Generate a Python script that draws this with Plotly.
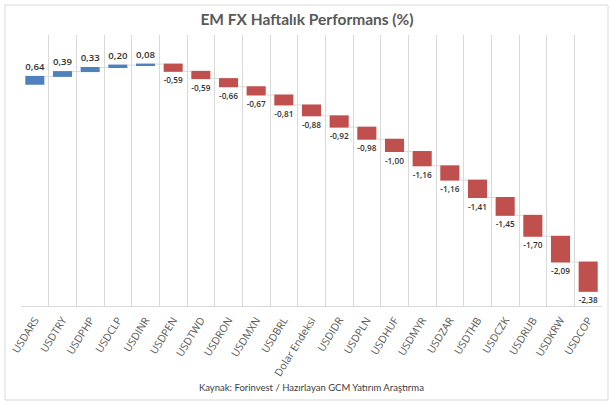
import plotly.graph_objects as go

# weekly EM FX performance (%)
pairs = ['USDARS', 'USDTRY', 'USDPHP', 'USDCLP', 'USDINR', 'USDPEN', 'USDTWD',
         'USDRON', 'USDMXN', 'USDBRL', 'Dolar Endeksi', 'USDIDR', 'USDPLN',
         'USDHUF', 'USDMYR', 'USDZAR', 'USDTHB', 'USDCZK', 'USDRUB', 'USDKRW',
         'USDCOP']
changes = [0.64, 0.39, 0.33, 0.20, 0.08, -0.59, -0.59, -0.66, -0.67, -0.81,
           -0.88, -0.92, -0.98, -1.00, -1.16, -1.16, -1.41, -1.45, -1.70,
           -2.09, -2.38]

labels = [f"{v:.2f}".replace('.', ',') for v in changes]

W, H = 614, 406
ml, mr, mt, mb = 21, 12, 35, 100
pw, ph = W - ml - mr, H - mt - mb

def px_x(p):
    return (p - ml) / pw

def px_y(p):
    return (H - mb - p) / ph

fig = go.Figure(go.Waterfall(
    x=pairs,
    y=changes,
    measure=['relative'] * len(changes),
    text=labels,
    textposition='outside',
    textfont=dict(family='Open Sans', size=10.5, color='#333333', weight=600),
    increasing=dict(marker=dict(color='#4F81BD')),
    decreasing=dict(marker=dict(color='#C0504D')),
    connector=dict(line=dict(color='#D9D9D9', width=1)),
    cliponaxis=False,
    hoverinfo='none'
))

fig.update_layout(
    width=W,
    height=H,
    margin=dict(l=ml, r=mr, t=mt, b=mb, autoexpand=False),
    paper_bgcolor='white',
    plot_bgcolor='white',
    showlegend=False,
    waterfallgap=0.31,
    title=dict(
        text='<b>EM FX Haftalık Performans (%)</b>',
        x=0.5, xanchor='center',
        y=1 - 20 / H, yanchor='middle',
        font=dict(family='Lato', size=15.5, color='#595959')
    ),
    xaxis=dict(
        type='category',
        automargin=False,
        tickson='boundaries',
        showgrid=True,
        gridcolor='#D9D9D9',
        showline=True,
        linecolor='#D9D9D9',
        ticks='',
        ticklabelstandoff=3,
        tickangle=-58,
        tickfont=dict(family='Open Sans', size=10.5, color='#595959')
    ),
    yaxis=dict(
        range=[-18, 4],
        automargin=False,
        visible=False,
        showgrid=False,
        zeroline=False
    ),
    shapes=[dict(
        type='rect', xref='paper', yref='paper',
        x0=px_x(5), x1=px_x(608), y0=px_y(400), y1=px_y(5),
        line=dict(color='#D9D9D9', width=1)
    )],
    annotations=[dict(
        text='Kaynak: Forinvest / Hazırlayan GCM Yatırım Araştırma',
        xref='paper', yref='paper',
        x=0.5, y=px_y(387), xanchor='center', yanchor='middle',
        showarrow=False,
        font=dict(family='Lato', size=9.5, color='#404040')
    )]
)

# drop the default page margin so the figure sits at the window origin
fig.write_html('out.html', config={'displayModeBar': False},
               post_script="document.body.style.margin='0';")
